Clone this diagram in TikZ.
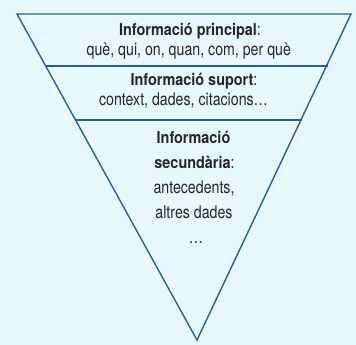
\documentclass[tikz,border=0pt]{standalone}
\usepackage{fontspec}
\newfontfamily\boldcond[FakeStretch=0.88]{TeX Gyre Heros}
\newfontfamily\regcond[FakeStretch=0.81]{TeX Gyre Heros}
\definecolor{bg}{HTML}{E6F8FC}
\definecolor{edge}{HTML}{2E5F8A}
\definecolor{ink}{HTML}{262626}
\newcommand{\bt}[1]{{\boldcond\fontsize{16.4}{18}\selectfont\bfseries #1}}
\begin{document}
\begin{tikzpicture}[x=1pt,y=-1pt,
  txt/.style={anchor=base,inner sep=0pt,text=ink,font=\regcond\fontsize{17.5}{19}\selectfont},
  edgeline/.style={draw=edge,line width=1.4pt,line join=miter}]
\useasboundingbox (0,0) rectangle (356,345);
\fill[bg] (0,0) rectangle (356,345);
\coordinate (tl) at (17,14);
\coordinate (tr) at (351,14);
\coordinate (ap) at (197,340);
\draw[edgeline] (tl) -- (tr) -- (ap) -- cycle;
\draw[edgeline] (45.5,66) -- (327.5,66);
\draw[edgeline] (75.3,120) -- (302,120);
\node[txt] (t1) at (190,35.5) {\bt{Informació principal}:};
\node[txt] (t2) at (188.8,56) {què, qui, on, quan, com, per què};
\node[txt] (t3) at (194,85) {\bt{Informació suport}:};
\node[txt] (t4) at (183.5,105.5) {context, dades, citacions\dots};
\node[txt] (t5) at (193.5,143.5) {\bt{Informació}};
\node[txt] (t6) at (194.5,168) {\bt{secundària}:};
\node[txt] (t7) at (194,193) {antecedents,};
\node[txt] (t8) at (194,218) {altres dades};
\node[txt] (t9) at (196,243) {\dots};
\end{tikzpicture}
\end{document}
